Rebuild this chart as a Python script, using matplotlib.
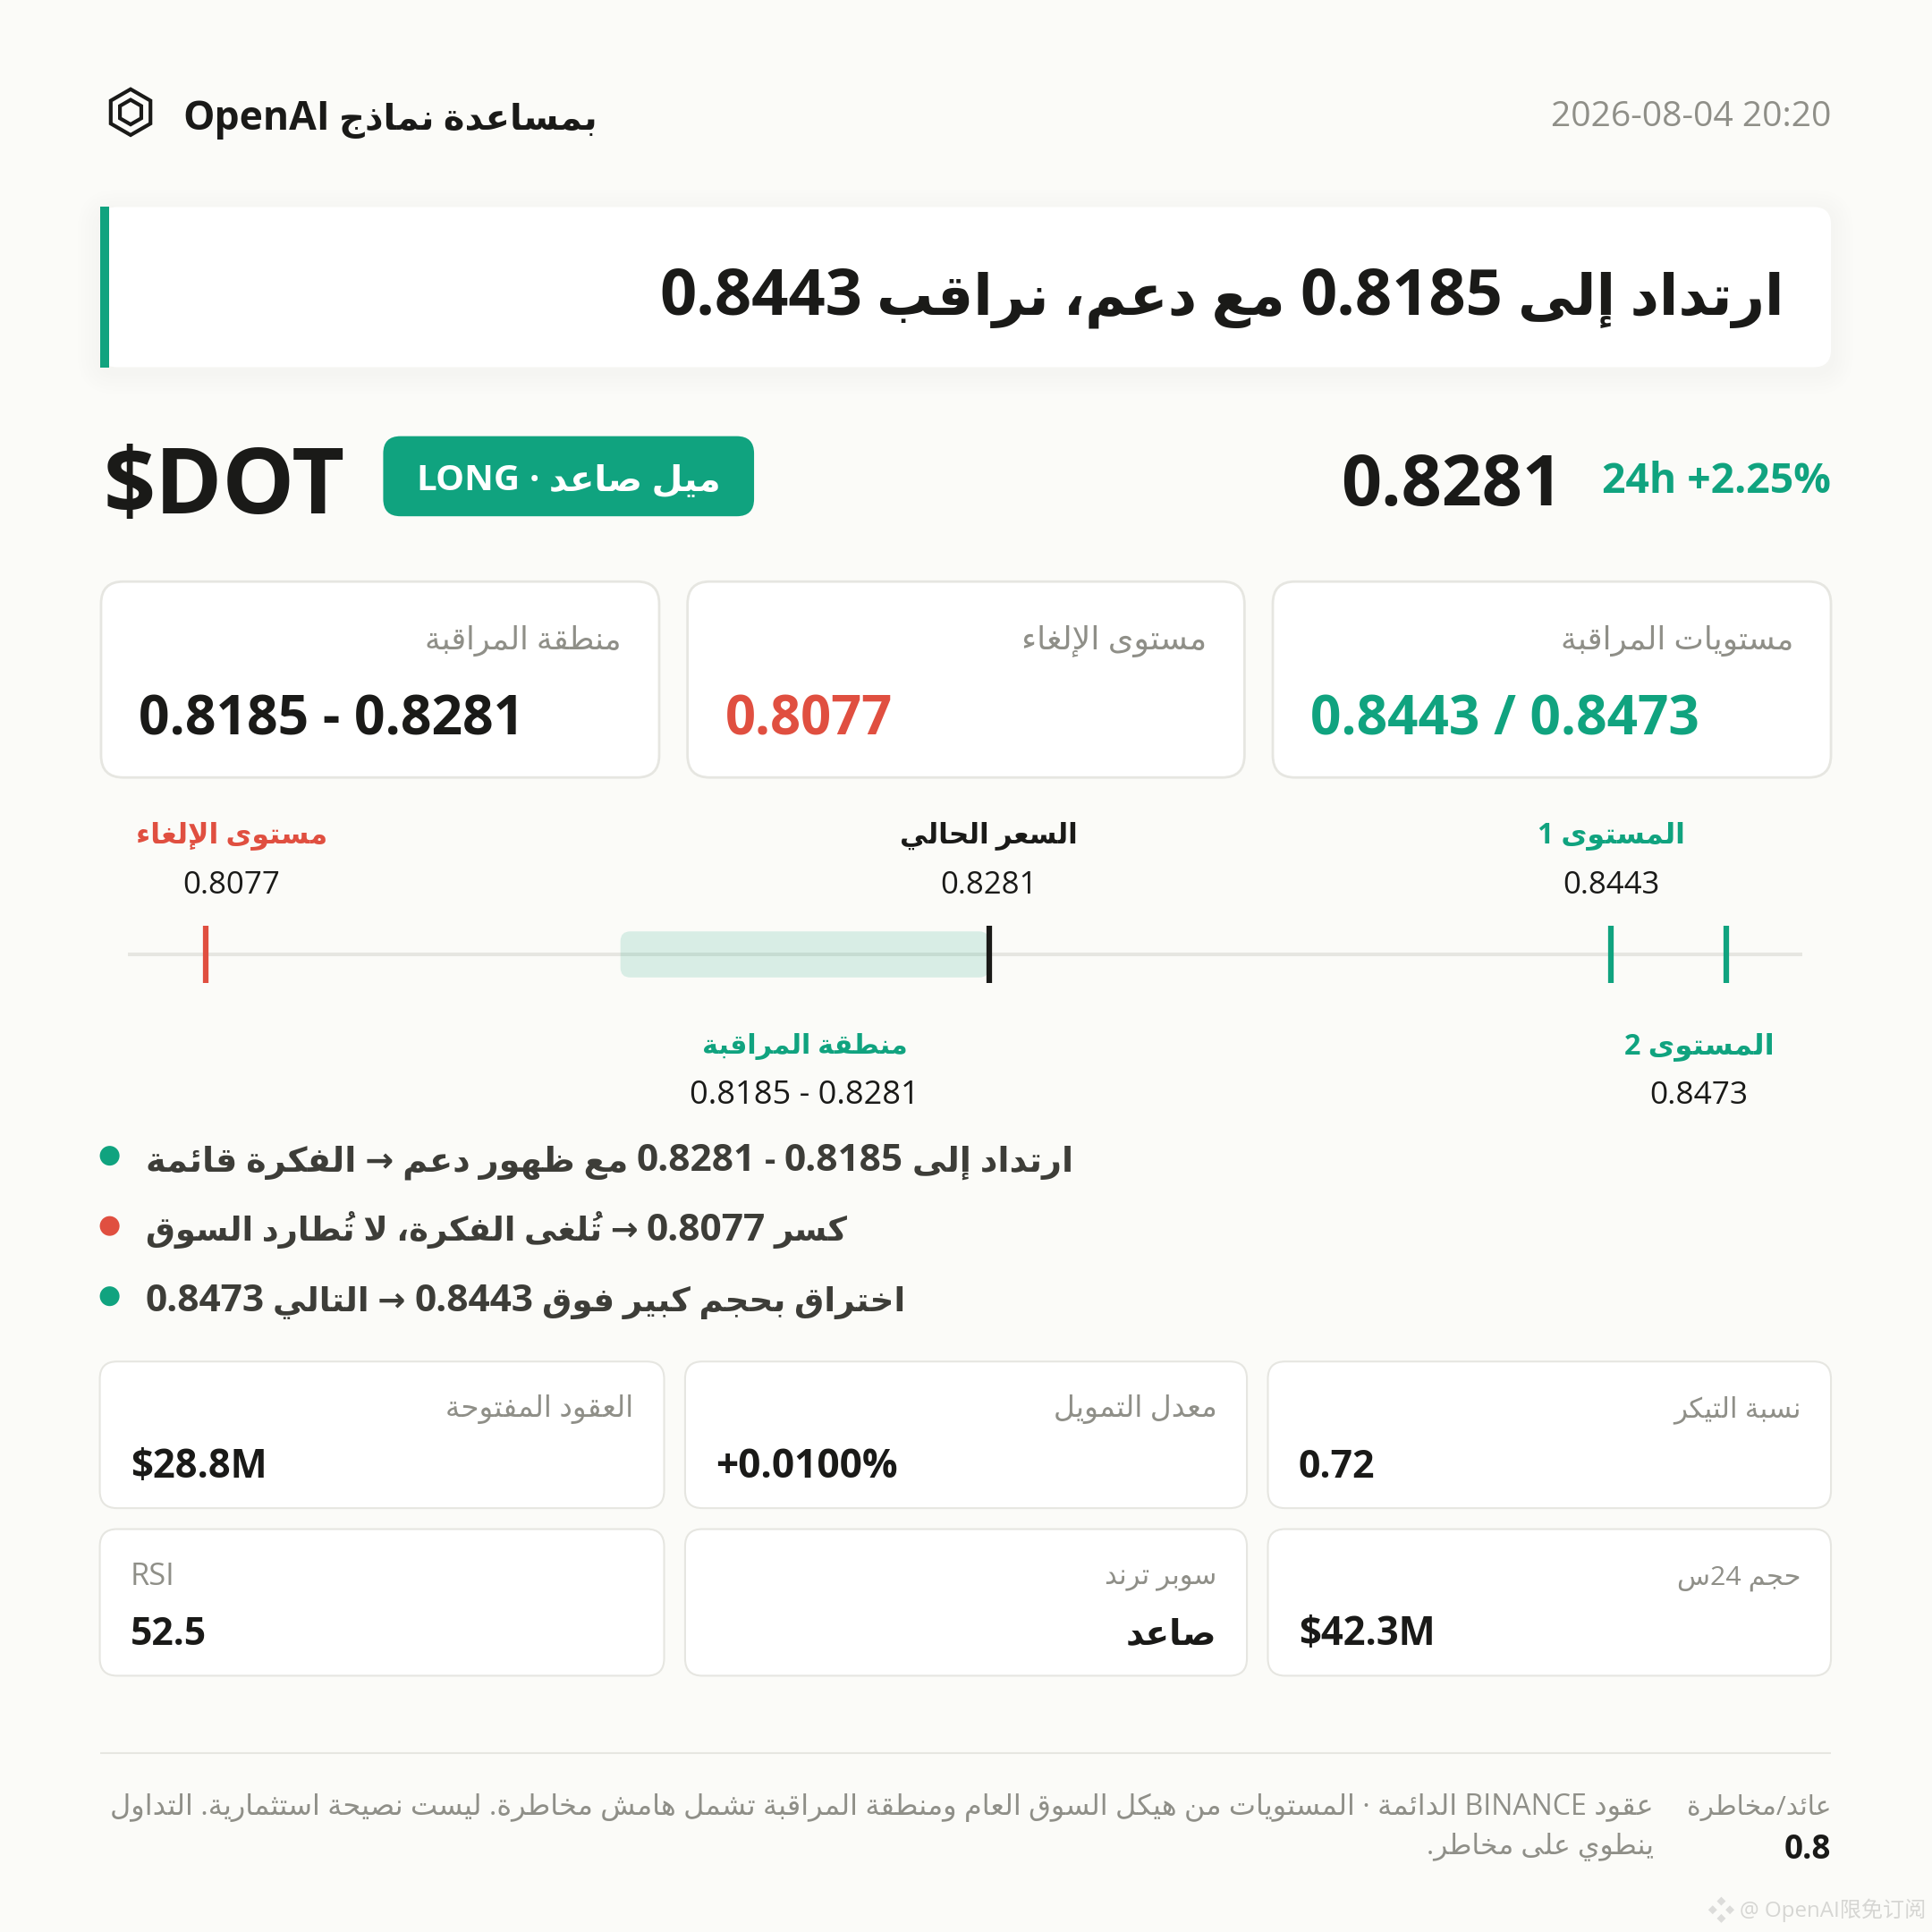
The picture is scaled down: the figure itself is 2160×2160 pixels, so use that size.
import re
import matplotlib
matplotlib.use("Agg")
import matplotlib.pyplot as plt
from matplotlib.patches import FancyBboxPatch, Rectangle, Circle, Polygon
import numpy as np

# ---------- data ----------
SYMBOL = "$DOT"
BRAND = "بمساعدة نماذج OpenAI"
STAMP = "2026-08-04 20:20"
HEADLINE = "ارتداد إلى 0.8185 مع دعم، نراقب 0.8443"
BADGE = "ميل صاعد · LONG"
PRICE_TXT = "0.8281"
CHANGE_TXT = "24h +2.25%"

stop_price = 0.8077
zone_low = 0.8185
zone_high = 0.8281
current_price = 0.8281
target_1 = 0.8443
target_2 = 0.8473

top_labels = ["منطقة المراقبة", "مستوى الإلغاء", "مستويات المراقبة"]
top_values = ["0.8185 - 0.8281", "0.8077", "0.8443 / 0.8473"]

bullets = [
    "ارتداد إلى 0.8185 - 0.8281 مع ظهور دعم → الفكرة قائمة",
    "كسر 0.8077 → تُلغى الفكرة، لا تُطارد السوق",
    "اختراق بحجم كبير فوق 0.8443 → التالي 0.8473",
]

metric_labels = ["العقود المفتوحة", "معدل التمويل", "نسبة التيكر", "RSI", "سوبر ترند", "حجم 24س"]
metric_values = ["$28.8M", "+0.0100%", "0.72", "52.5", "صاعد", "$42.3M"]

footer_1 = "عقود BINANCE الدائمة · المستويات من هيكل السوق العام ومنطقة المراقبة تشمل هامش مخاطرة. ليست نصيحة استثمارية. التداول"
footer_2 = "ينطوي على مخاطر."
rr_label = "عائد/مخاطرة"
rr_value = "0.8"
WATERMARK = "@ OpenAI限免订阅"

# ---------- Arabic shaping (matplotlib has no shaper) ----------
_order = [("ء",1),("آ",2),("أ",2),("ؤ",2),("إ",2),("ئ",4),("ا",2),("ب",4),("ة",2),("ت",4),("ث",4),
          ("ج",4),("ح",4),("خ",4),("د",2),("ذ",2),("ر",2),("ز",2),("س",4),("ش",4),("ص",4),("ض",4),
          ("ط",4),("ظ",4),("ع",4),("غ",4),("ف",4),("ق",4),("ك",4),("ل",4),("م",4),("ن",4),("ه",4),
          ("و",2),("ى",2),("ي",4)]
FORMS = {}
_c = 0xFE80
for ch, n in _order:
    FORMS[ch] = (_c, n)
    _c += n
LAM_ALEF = {"آ": 0xFEF5, "أ": 0xFEF7, "إ": 0xFEF9, "ا": 0xFEFB}
MARKS = "\u064b\u064c\u064d\u064e\u064f\u0650\u0651\u0652"
LTR_RUN = r"([A-Za-z0-9$+][A-Za-z0-9.%]*)"


def _shape(s):
    items = []
    for ch in s:
        if ch in MARKS and items:
            items[-1][1] += ch
        else:
            items.append([ch, ""])
    merged = []
    i = 0
    while i < len(items):
        c, m = items[i]
        if c == "ل" and i + 1 < len(items) and items[i + 1][0] in LAM_ALEF:
            merged.append(["LA" + items[i + 1][0], m])
            i += 2
        else:
            merged.append([c, m])
            i += 1
    out = []

    def joins_next(c):
        if c.startswith("LA"):
            return False
        return c in FORMS and FORMS[c][1] == 4

    def joins_prev(c):
        if c.startswith("LA"):
            return True
        return c in FORMS and FORMS[c][1] >= 2

    for i, (c, m) in enumerate(merged):
        prev = merged[i - 1][0] if i else ""
        nxt = merged[i + 1][0] if i + 1 < len(merged) else ""
        p = joins_next(prev) and joins_prev(c)
        n = joins_next(c) and joins_prev(nxt)
        if c.startswith("LA"):
            g = chr(LAM_ALEF[c[2]] + (1 if p else 0))
        elif c in FORMS:
            base, cnt = FORMS[c]
            if cnt == 1:
                g = chr(base)
            elif cnt == 2:
                g = chr(base + (1 if p else 0))
            else:
                idx = 3 if (p and n) else 1 if p else 2 if n else 0
                g = chr(base + idx)
        else:
            g = c
        out.append(m + g)  # zero-advance mark first, so that it lands on its letter
    return out


def ar(s):
    parts = re.split(LTR_RUN, s)
    res = []
    for k, p in enumerate(parts):
        if k % 2:
            res.append(p)
        elif p:
            res.append("".join(reversed(_shape(p))))
    return "".join(reversed(res))


# ---------- canvas: coordinates in a 1568 unit layout box ----------
BG = "#FBFBF8"
GREEN = "#10A37F"
RED = "#E04F40"
INK = "#1A1A18"
BODY = "#3D3D38"
GREY = "#8F8F88"
RULE = "#E6E6E1"

fig = plt.figure(figsize=(21.6, 21.6), dpi=100, facecolor=BG)
ax = fig.add_axes([0, 0, 1, 1])
ax.set_xlim(0, 1568)
ax.set_ylim(1568, 0)
ax.axis("off")
renderer = fig.canvas.get_renderer()
K = 2160 / 1568
LATIN = ["Open Sans", "DejaVu Sans"]


def T(x, y, s, w=None, ha="left", weight="normal", color=INK, size=24, family=None, z=5):
    t = ax.text(x, y, s, ha=ha, va="baseline", fontsize=size, fontweight=weight, color=color,
                family=family or LATIN, parse_math=False, zorder=z)
    if w:
        cur = t.get_window_extent(renderer).width
        t.set_fontsize(size * w * K / cur)
    return t


def advance(s, size, weight):
    """pen advance of a run, in layout units, spaces at its ends included"""
    a = ax.text(0, 0, "x" + s + "x", fontsize=size, fontweight=weight, family=LATIN, parse_math=False)
    b = ax.text(0, 0, "xx", fontsize=size, fontweight=weight, family=LATIN, parse_math=False)
    d = a.get_window_extent(renderer).width - b.get_window_extent(renderer).width
    a.remove()
    b.remove()
    return d / K


def TM(x, y, s, w, latin_size, ha="left", weight="bold", color=INK):
    """Mixed line: Latin and digit runs at latin_size, Arabic runs sized so the line spans w."""
    runs = re.split(LTR_RUN, ar(s))
    REF = 30.0
    latin_w = sum(advance(r, latin_size, weight) for i, r in enumerate(runs) if i % 2)
    arab_w = sum(advance(r, REF, weight) for i, r in enumerate(runs) if not i % 2 and r)
    arab_size = REF * (w - latin_w) / arab_w
    px = x - w if ha == "right" else x
    for i, r in enumerate(runs):
        if not r:
            continue
        sz = latin_size if i % 2 else arab_size
        t = ax.text(px, y, r.strip() if False else r, ha="left", va="baseline", fontsize=sz, fontweight=weight,
                    color=color, family=LATIN, parse_math=False, zorder=5)
        # leading spaces are kept in the pen position below
        lead = len(r) - len(r.lstrip(" "))
        if lead or r != r.rstrip(" "):
            t.set_text(r.strip(" "))
            t.set_x(px + advance(" " * lead, sz, weight))
        px += advance(r, sz, weight)


def card(x0, y0, x1, y1, r, fc="white", ec=RULE, lw=1.6, z=2):
    p = FancyBboxPatch((x0, y0), x1 - x0, y1 - y0, boxstyle=f"round,pad=0,rounding_size={r}",
                       fc=fc, ec=ec, lw=lw, zorder=z)
    ax.add_patch(p)
    return p


# ---------- header ----------
def hexagon(cx, cy, r):
    a = np.deg2rad(np.arange(6) * 60 + 90)
    return np.c_[cx + r * np.cos(a), cy + r * np.sin(a)]


ax.add_patch(Polygon(hexagon(106, 91, 18.6), closed=True, fc="none", ec=INK, lw=3, joinstyle="miter", zorder=5))
ax.add_patch(Polygon(hexagon(106, 91, 10), closed=True, fc="none", ec=INK, lw=3, joinstyle="miter", zorder=5))
TM(148, 105.5, BRAND, 336, 32)
T(1486, 102, STAMP, w=228, ha="right", color=GREY, size=26)

# ---------- headline banner ----------
for i in range(6):
    g = 18 - i * 3
    ax.add_patch(FancyBboxPatch((81 - g, 168 - g + 4), 1405 + 2 * g, 130 + 2 * g,
                                boxstyle=f"round,pad=0,rounding_size={14 + g}",
                                fc="black", ec="none", alpha=0.0035, zorder=1))
card(81, 168, 1486, 298, 14, ec="none", lw=0)
ax.add_patch(Rectangle((81, 168), 7.5, 130, fc=GREEN, ec="none", zorder=3))
TM(1447, 255.5, HEADLINE, 912, 52, ha="right")

# ---------- symbol row ----------
T(84, 417, SYMBOL, w=196, weight="bold", size=72)
card(311, 354, 612, 419, 14, fc=GREEN, ec="none", lw=0)
TM(338, 398, BADGE, 247, 29, color="white")
T(1268, 410, PRICE_TXT, w=180, ha="right", weight="bold", size=58)
T(1486, 400, CHANGE_TXT, w=186, ha="right", weight="bold", color=GREEN, size=32)

# ---------- level cards ----------
top_boxes = [(82, 535), (558, 1010), (1033, 1486)]
top_label_w = [161, 151, 190]
top_value_w = [313, 136, 316]
top_colors = [INK, RED, GREEN]
for (x0, x1), lab, val, lw_, vw, col in zip(top_boxes, top_labels, top_values, top_label_w, top_value_w, top_colors):
    card(x0, 472, x1, 631, 18, lw=2)
    T(x1 - 30.5, 527, ar(lab), w=lw_, ha="right", color=GREY, size=24)
    T(x0 + 30.5, 596, val, w=vw, weight="bold", color=col, size=44)

# ---------- price track ----------
track_x0, track_x1 = 104, 1463
per_price = (1401 - 167) / (target_2 - stop_price)  # layout units per unit of price
lo = stop_price - (167 - track_x0) / per_price
hi = stop_price + (track_x1 - 167) / per_price
track = fig.add_axes([track_x0 / 1568, 1 - 803.6 / 1568, (track_x1 - track_x0) / 1568, 58 / 1568], facecolor="none")
track.set_xlim(lo, hi)
track.set_ylim(29, -29)
track.axis("off")
track.plot([lo, hi], [0, 0], color=RULE, lw=2.9, solid_capstyle="butt", zorder=1)
r_price = 8 / per_price
track.add_patch(FancyBboxPatch((zone_low, -18.7), zone_high - zone_low, 37.4,
                               boxstyle=f"round,pad=0,rounding_size={r_price}",
                               mutation_aspect=per_price, fc=GREEN, ec="none", alpha=0.15, zorder=2))
track.vlines([stop_price], -23.3, 23.3, color=RED, lw=4.5, zorder=3)
track.vlines([current_price], -23.3, 23.3, color=INK, lw=4.5, zorder=3)
track.vlines([target_1, target_2], -23.3, 23.3, color=GREEN, lw=4.5, zorder=3)


def price_x(p):
    return track_x0 + (p - lo) * per_price


T(188, 684, ar(top_labels[1]), w=156, ha="center", weight="bold", color=RED)
T(188, 725, f"{stop_price:.4f}", w=79, ha="center", color=INK)
T(price_x(current_price), 684, ar("السعر الحالي"), w=145, ha="center", weight="bold", color=INK)
T(price_x(current_price), 725, f"{current_price:.4f}", w=79, ha="center", color=INK)
T(price_x(target_1), 684, ar("المستوى 1"), w=120, ha="center", weight="bold", color=GREEN)
T(price_x(target_1), 725, f"{target_1:.4f}", w=79, ha="center", color=INK)
T(653, 855, ar(top_labels[0]), w=167, ha="center", weight="bold", color=GREEN)
T(653, 896, f"{zone_low:.4f} - {zone_high:.4f}", w=186, ha="center", color=INK)
T(1379, 855, ar("المستوى 2"), w=122, ha="center", weight="bold", color=GREEN)
T(1379, 896, f"{target_2:.4f}", w=80, ha="center", color=INK)

# ---------- bullets ----------
bullet_colors = [GREEN, RED, GREEN]
bullet_y = [950.5, 1007, 1064]
dot_y = [938, 995, 1052]
bullet_w = [753, 570, 617]
for s, c, y, dy, w in zip(bullets, bullet_colors, bullet_y, dot_y, bullet_w):
    ax.add_patch(Circle((89, dy), 8, fc=c, ec="none", zorder=4))
    TM(118, y, s, w, 30.5, color=BODY)

# ---------- metric cards ----------
cols = [(81, 539), (556, 1012), (1029, 1486)]
rows = [(1105, 1224), (1241, 1360)]
m_label_w = [153, 133, 104, 36, 91, 101]
m_value_w = [111, 148, 62, 62, 74, 111]
for i, (lab, val) in enumerate(zip(metric_labels, metric_values)):
    x0, x1 = cols[i % 3]
    y0, y1 = rows[i // 3]
    card(x0, y0, x1, y1, 14, lw=1.5)
    if lab.isascii():
        T(x0 + 25, y0 + 45, lab, w=m_label_w[i], color=GREY)
    else:
        T(x1 - 24.5, y0 + 45, ar(lab), w=m_label_w[i], ha="right", color=GREY)
    if val.isascii():
        T(x0 + 25, y0 + 94, val, w=m_value_w[i], weight="bold", color=INK)
    else:
        T(x1 - 24.5, y0 + 94, ar(val), w=m_value_w[i], ha="right", weight="bold", color=INK)

# ---------- footer ----------
ax.plot([81, 1486], [1423, 1423], color=RULE, lw=1.5, solid_capstyle="butt", zorder=2)
T(1342, 1473, ar(footer_1), w=1254, ha="right", color=GREY)
T(1342, 1505, ar(footer_2), w=185, ha="right", color=GREY)
T(1486, 1473, ar(rr_label), w=118, ha="right", color=GREY)
T(1486, 1508.5, rr_value, w=38, ha="right", weight="bold", color=INK)

# ---------- watermark ----------
for dx, dy in [(0, -7), (-7, 0), (7, 0), (0, 7)]:
    ax.add_patch(Polygon([(1397 + dx, 1550 + dy - 3.6), (1397 + dx + 3.6, 1550 + dy),
                          (1397 + dx, 1550 + dy + 3.6), (1397 + dx - 3.6, 1550 + dy)],
                         closed=True, fc="#DCDCDA", ec="none", zorder=5))
T(1412, 1556, WATERMARK, w=151, color="#D6D6D3", family=["Open Sans", "Noto Sans CJK SC"], size=18)

fig.savefig("out.png", dpi=100, facecolor=BG)
